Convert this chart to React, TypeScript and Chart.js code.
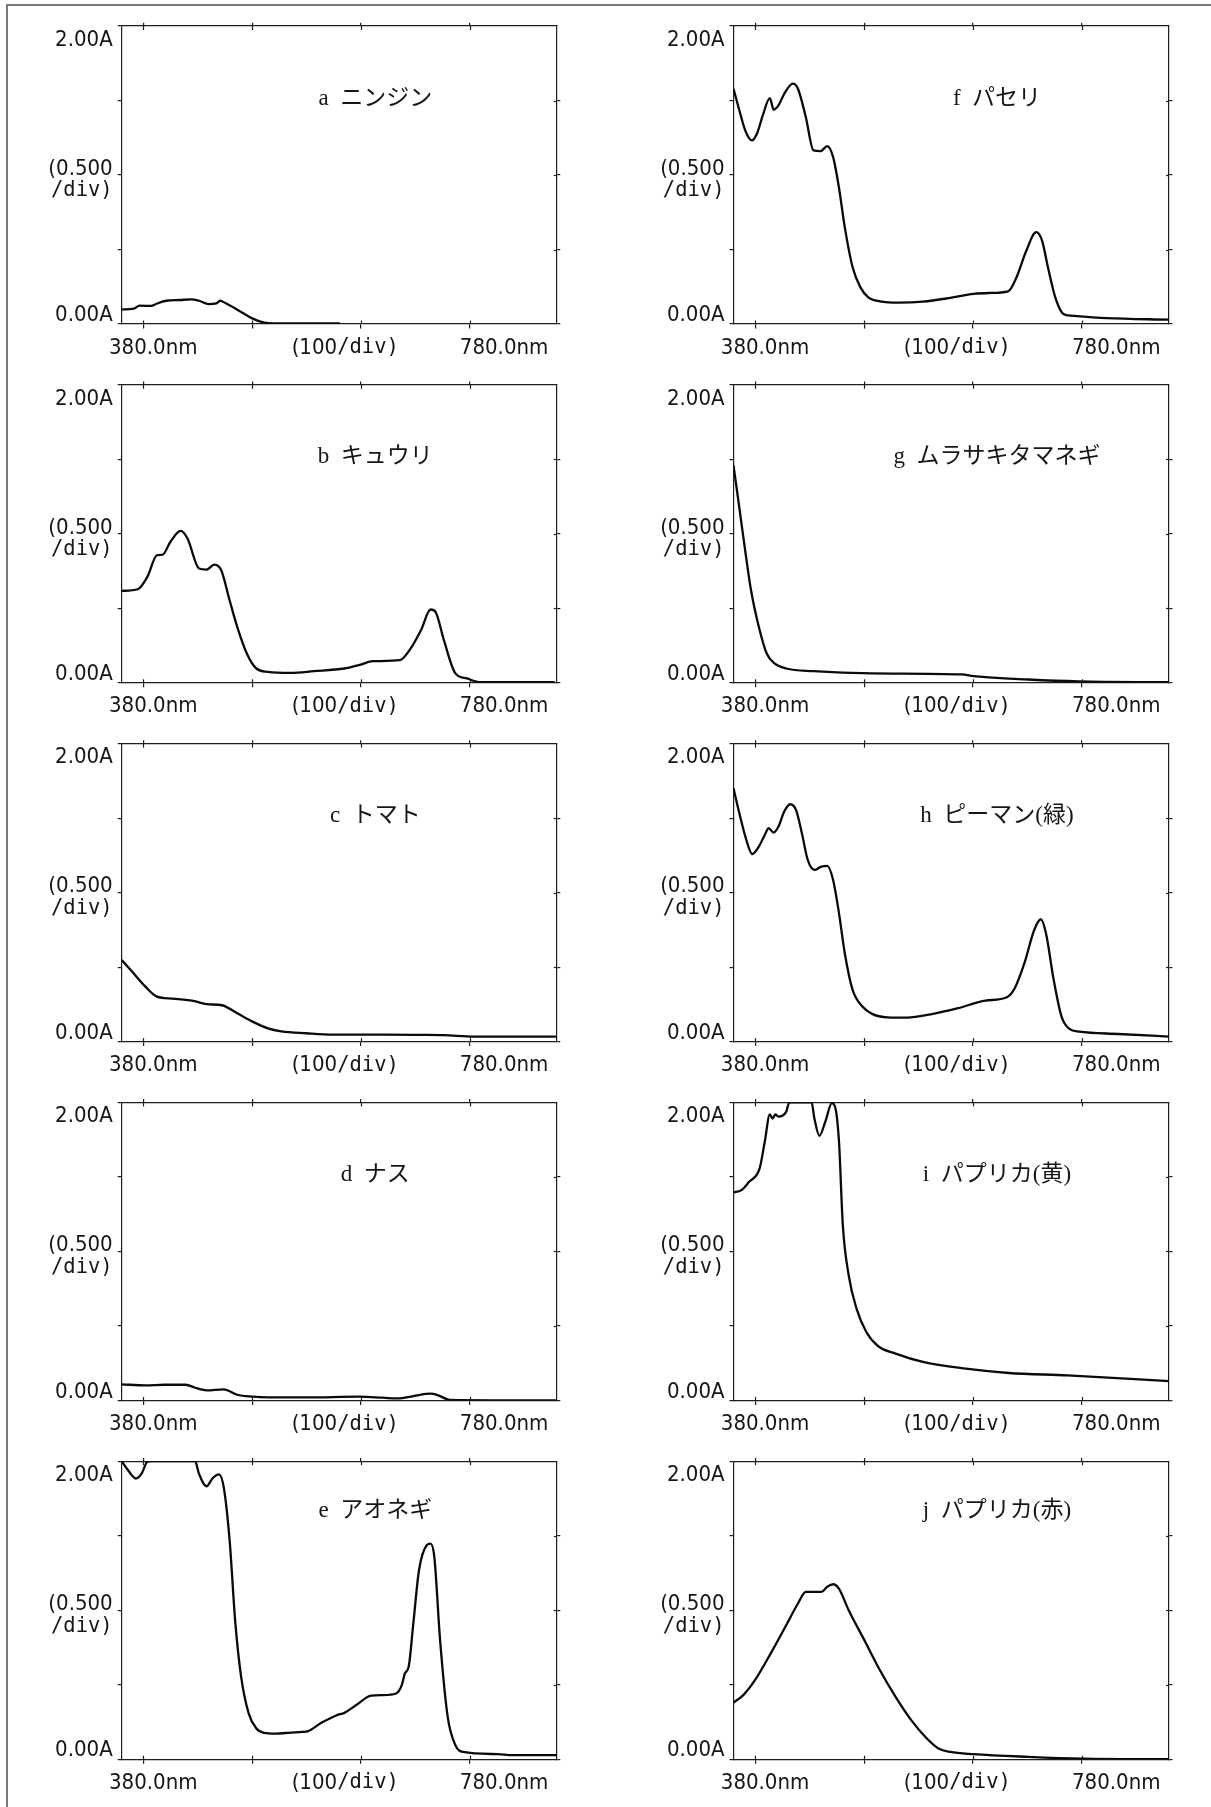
import React, { useEffect, useRef } from "react";
import { Chart, registerables } from "chart.js";

Chart.register(...registerables);

// ---------- data (wavelength nm / absorbance A) ----------
const aWave = [380, 391, 396.5, 407, 412, 421, 433.5, 444, 451, 460, 467, 470.4, 475.7, 486, 500, 511, 521, 580.5];
const aAbs = [0.098, 0.103, 0.123, 0.121, 0.136, 0.156, 0.161, 0.165, 0.156, 0.134, 0.139, 0.156, 0.139, 0.098, 0.038, 0.009, 0.004, 0.004];

const bWave = [380, 394.8, 403.6, 412.4, 417.6, 424.7, 434.2, 440.5, 451.1, 458.1, 465.1, 471.5, 479.2, 486.2, 495, 503.8, 514.4, 535.5, 556.6, 584.7, 598.8, 611.1, 635.8, 644.6, 655.1, 664, 668.5, 676.2, 686.8, 697.3, 709.6, 778];
const bAbs = [0.617, 0.628, 0.711, 0.856, 0.86, 0.945, 1.019, 0.968, 0.767, 0.76, 0.793, 0.755, 0.554, 0.375, 0.197, 0.096, 0.074, 0.067, 0.078, 0.096, 0.121, 0.145, 0.152, 0.219, 0.353, 0.492, 0.476, 0.286, 0.063, 0.029, 0.004, 0.004];

const cWave = [380, 389.5, 401.8, 412.4, 426.4, 445.8, 458.1, 472.2, 486.2, 500.3, 514.4, 526.7, 549.6, 574.2, 619.9, 655.1, 676.2, 704.4, 780];
const cAbs = [0.548, 0.47, 0.369, 0.302, 0.289, 0.273, 0.251, 0.244, 0.19, 0.134, 0.089, 0.069, 0.056, 0.047, 0.047, 0.045, 0.043, 0.034, 0.034];

const dWave = [380, 401.8, 419.4, 438.8, 447.5, 458.1, 473.9, 486.2, 500.3, 514.4, 549.6, 598.8, 619.9, 634, 648.1, 663.9, 671, 681.5, 780];
const dAbs = [0.108, 0.101, 0.105, 0.105, 0.085, 0.067, 0.074, 0.038, 0.025, 0.02, 0.02, 0.025, 0.018, 0.013, 0.029, 0.045, 0.034, 0.004, 0.0];

const eWave = [380, 386, 393, 398.3, 403.6, 407, 447.5, 451, 458, 463.4, 469.4, 474, 479.2, 484.5, 489.8, 496.8, 503.8, 510.9, 521.4, 535.5, 546, 551.3, 563.6, 577.7, 584.7, 595.3, 609.4, 619.9, 632.2, 637.5, 640.3, 643.8, 648.1, 653.3, 660.4, 663.9, 667.4, 672.7, 679.7, 686.8, 693.8, 725.5, 739.5, 780];
const eAbs = [2.0, 1.937, 1.884, 1.917, 1.996, 2.0, 2.0, 1.917, 1.832, 1.884, 1.911, 1.817, 1.47, 0.911, 0.553, 0.306, 0.206, 0.177, 0.172, 0.179, 0.183, 0.188, 0.244, 0.295, 0.311, 0.362, 0.427, 0.43, 0.441, 0.497, 0.575, 0.62, 0.911, 1.268, 1.436, 1.447, 1.358, 0.799, 0.284, 0.094, 0.049, 0.034, 0.027, 0.027];

const fWave = [380, 385.4, 390.8, 396.9, 401.5, 406.9, 413.4, 416.9, 421.3, 426.6, 434.5, 439.2, 446.4, 453.5, 460, 466.1, 471.5, 476.8, 482.2, 489.4, 496.6, 503.8, 514.5, 532.5, 554, 579, 600.6, 615, 632.2, 640, 649, 658, 663.4, 668.8, 676, 683, 690.3, 722.6, 780];
const fAbs = [1.579, 1.433, 1.299, 1.232, 1.277, 1.4, 1.516, 1.438, 1.467, 1.545, 1.613, 1.579, 1.389, 1.165, 1.16, 1.194, 1.12, 0.918, 0.65, 0.381, 0.246, 0.179, 0.152, 0.143, 0.15, 0.175, 0.202, 0.208, 0.219, 0.314, 0.493, 0.616, 0.56, 0.381, 0.168, 0.067, 0.056, 0.04, 0.029];

const gWave = [380, 383.6, 389, 396.1, 403.3, 410.5, 417.7, 428.4, 453.5, 507.3, 589.8, 600.6, 650.8, 697.4, 780];
const gAbs = [1.459, 1.269, 0.979, 0.621, 0.375, 0.197, 0.13, 0.096, 0.078, 0.063, 0.056, 0.045, 0.022, 0.009, 0.004];

const hWave = [380, 385.4, 391.8, 397.2, 403.3, 408.7, 412.3, 416.9, 421.3, 426.6, 432, 437.4, 442.8, 448.2, 454.3, 460.7, 466.1, 471.5, 476.9, 482.2, 489.4, 498.4, 507.3, 521.7, 539.6, 561.1, 586.3, 611.4, 631.1, 638.3, 647.2, 656.2, 662.3, 667, 674.1, 681.3, 688.5, 697.5, 733.3, 780];
const hAbs = [1.7, 1.532, 1.353, 1.259, 1.309, 1.387, 1.432, 1.403, 1.443, 1.544, 1.593, 1.555, 1.398, 1.219, 1.152, 1.174, 1.179, 1.085, 0.861, 0.593, 0.347, 0.235, 0.186, 0.163, 0.161, 0.183, 0.224, 0.275, 0.298, 0.358, 0.526, 0.749, 0.821, 0.727, 0.414, 0.168, 0.085, 0.067, 0.051, 0.034];

const iWave = [380, 387.2, 394.3, 404, 408.7, 413.4, 415.9, 418.4, 421.3, 424.8, 428.4, 431.3, 451.7, 454.3, 458.9, 464.3, 470.4, 473.3, 476.9, 480.4, 485.8, 493, 502, 512.7, 528.9, 554, 593.4, 632.9, 686.7, 780];
const iAbs = [1.395, 1.411, 1.467, 1.557, 1.736, 1.919, 1.892, 1.919, 1.904, 1.91, 1.937, 2.0, 2.0, 1.892, 1.776, 1.87, 1.996, 1.971, 1.736, 1.176, 0.84, 0.616, 0.459, 0.365, 0.314, 0.258, 0.213, 0.184, 0.168, 0.13];

const jWave = [380, 389, 399.7, 414.1, 428.4, 439.2, 446.4, 460.7, 466.1, 471.5, 476.8, 485.8, 500.2, 514.5, 528.9, 543.2, 557.6, 568.3, 579.1, 600.6, 650.8, 701, 780];
const jAbs = [0.38, 0.43, 0.53, 0.709, 0.899, 1.045, 1.123, 1.123, 1.157, 1.174, 1.145, 1.0, 0.799, 0.597, 0.418, 0.262, 0.139, 0.072, 0.049, 0.034, 0.016, 0.004, 0.0];

const panelTitles = [
  "a\u2002ニンジン",
  "b\u2002キュウリ",
  "c\u2002トマト",
  "d\u2002ナス",
  "e\u2002アオネギ",
  "f\u2002パセリ",
  "g\u2002ムラサキタマネギ",
  "h\u2002ピーマン(緑)",
  "i\u2002パプリカ(黄)",
  "j\u2002パプリカ(赤)",
];
const panelWaves = [aWave, bWave, cWave, dWave, eWave, fWave, gWave, hWave, iWave, jWave];
const panelAbs = [aAbs, bAbs, cAbs, dAbs, eAbs, fAbs, gAbs, hAbs, iAbs, jAbs];

// axis values and labels
const X_MIN = 380;
const X_MAX = 780;
const X_TICKS = [400, 500, 600, 700];
const Y_MIN = 0;
const Y_MAX = 2;
const Y_LEFT_TICKS = [0, 0.5, 1, 1.5, 2];
const Y_RIGHT_TICKS = [0, 0.5, 1, 1.5];
const Y_TOP_LABEL = "2.00A";
const Y_BOTTOM_LABEL = "0.00A";
const Y_DIV_LABEL = ["(0.500", "/div)"];
const X_LEFT_LABEL = "380.0nm";
const X_RIGHT_LABEL = "780.0nm";
const X_DIV_LABEL = ["(100", "/div)"];

// ---------- styling / layout ----------
const AXIS_COLOR = "#1e1e1e";
const TEXT_COLOR = "#161616";
const LINE_COLOR = "#0a0a0a";
const SANS = '22px "DejaVu Sans Condensed", "DejaVu Sans", sans-serif';
const MONO = '20.5px "DejaVu Sans Mono", monospace';
const TITLE_FONT = '23px "Liberation Serif", "Noto Sans CJK JP", serif';

const ROW_STEP = 358.8;
const PLOT_TOP0 = 26;
const PLOT_H = 298;
const CANVAS_H = 358;
const COLS = [
  { x: 0, w: 600, left: 121.7, right: 556.8, titleFrac: 0.583 },
  { x: 600, w: 611, left: 133.5, right: 569, titleFrac: 0.605 },
];

const spectroPlugin = {
  id: "spectro",
  afterDraw(chart: any, _args: any, opts: any) {
    const ctx: CanvasRenderingContext2D = chart.ctx;
    const { left, right, top, bottom } = chart.chartArea;
    const xs = chart.scales.x;
    const ys = chart.scales.y;
    ctx.save();
    ctx.strokeStyle = AXIS_COLOR;
    ctx.lineWidth = 1.2;
    const seg = (x1: number, y1: number, x2: number, y2: number) => {
      ctx.beginPath();
      ctx.moveTo(x1, y1);
      ctx.lineTo(x2, y2);
      ctx.stroke();
    };
    // inward halves of crossing tick marks
    for (const v of X_TICKS) {
      const px = Math.round(xs.getPixelForValue(v)) + 0.5;
      seg(px, top, px, top + 4);
      seg(px, bottom, px, bottom - 3.5);
    }
    for (const v of Y_RIGHT_TICKS) {
      if (v === 0) continue;
      const py = Math.round(ys.getPixelForValue(v)) + 0.5;
      seg(right - 3, py, right, py);
    }

    // y labels
    ctx.fillStyle = TEXT_COLOR;
    ctx.textBaseline = "middle";
    ctx.textAlign = "right";
    ctx.font = SANS;
    ctx.fillText(Y_TOP_LABEL, left - 9, top + 14);
    ctx.fillText(Y_BOTTOM_LABEL, left - 9, bottom - 8.5);
    const yMid = ys.getPixelForValue(1);
    ctx.fillText(Y_DIV_LABEL[0], left - 9, yMid - 6);
    ctx.font = MONO;
    ctx.fillText(Y_DIV_LABEL[1], left - 9, yMid + 16);

    // x labels
    const xy = bottom + 23.8;
    ctx.font = SANS;
    ctx.textAlign = "left";
    ctx.fillText(X_LEFT_LABEL, left - 12.7, xy);
    ctx.textAlign = "right";
    ctx.fillText(X_RIGHT_LABEL, right - 8.5, xy);
    const w1 = ctx.measureText(X_DIV_LABEL[0]).width;
    ctx.font = MONO;
    const w2 = ctx.measureText(X_DIV_LABEL[1]).width;
    const cx = (left + right) / 2 + 6;
    const sx = cx - (w1 + w2) / 2;
    ctx.textAlign = "left";
    ctx.font = SANS;
    ctx.fillText(X_DIV_LABEL[0], sx, xy);
    ctx.font = MONO;
    ctx.fillText(X_DIV_LABEL[1], sx + w1, xy);

    // panel title
    ctx.font = TITLE_FONT;
    ctx.textAlign = "center";
    ctx.fillText(opts.title, left + (right - left) * opts.titleFrac, top + opts.titleDy);
    ctx.restore();
  },
};

function ticksFrom(values: number[]) {
  return (scale: any) => {
    scale.ticks = values.map((v) => ({ value: v }));
  };
}

function Panel({ idx }: { idx: number }) {
  const ref = useRef<HTMLCanvasElement | null>(null);
  const col = idx < 5 ? 0 : 1;
  const row = idx % 5;
  const c = COLS[col];
  const plotTop = PLOT_TOP0 + ROW_STEP * row;
  const canvasTop = Math.round(ROW_STEP * row);
  const padTop = plotTop - canvasTop;
  const padBottom = CANVAS_H - padTop - PLOT_H;

  useEffect(() => {
    if (!ref.current) return;
    const grid = (len: number) => ({
      drawOnChartArea: false,
      drawTicks: true,
      tickLength: len,
      color: AXIS_COLOR,
      lineWidth: 1.2,
    });
    const border = { display: true, color: AXIS_COLOR, width: 1.2 };
    const zeroH = (s: any) => {
      s.height = 0;
    };
    const zeroW = (s: any) => {
      s.width = 0;
    };
    const chart = new Chart(ref.current, {
      type: "line",
      data: {
        datasets: [
          {
            data: panelWaves[idx].map((w, i) => ({ x: w, y: panelAbs[idx][i] })),
            borderColor: LINE_COLOR,
            borderWidth: 2.3,
            pointRadius: 0,
            fill: false,
            cubicInterpolationMode: "monotone",
          },
        ],
      },
      options: {
        responsive: false,
        animation: false,
        events: [],
        layout: {
          padding: { left: c.left, right: c.w - c.right, top: padTop, bottom: padBottom },
        },
        plugins: {
          legend: { display: false },
          tooltip: { enabled: false },
          spectro: { title: panelTitles[idx], titleFrac: c.titleFrac, titleDy: row === 4 ? 50 : 72.6 },
        } as any,
        scales: {
          x: {
            type: "linear",
            position: "bottom",
            min: X_MIN,
            max: X_MAX,
            afterBuildTicks: ticksFrom(X_TICKS),
            afterFit: zeroH,
            grid: grid(4.5),
            border,
            ticks: { display: false },
          },
          x2: {
            type: "linear",
            position: "top",
            min: X_MIN,
            max: X_MAX,
            afterBuildTicks: ticksFrom(X_TICKS),
            afterFit: zeroH,
            grid: grid(3.3),
            border,
            ticks: { display: false },
          },
          y: {
            type: "linear",
            position: "left",
            min: Y_MIN,
            max: Y_MAX,
            afterBuildTicks: ticksFrom(Y_LEFT_TICKS),
            afterFit: zeroW,
            grid: grid(4),
            border,
            ticks: { display: false },
          },
          y2: {
            type: "linear",
            position: "right",
            min: Y_MIN,
            max: Y_MAX,
            afterBuildTicks: ticksFrom(Y_RIGHT_TICKS),
            afterFit: zeroW,
            grid: grid(3.5),
            border,
            ticks: { display: false },
          },
        },
      } as any,
      plugins: [spectroPlugin as any],
    });
    return () => chart.destroy();
  }, [idx]);

  return (
    <canvas
      ref={ref}
      width={c.w}
      height={CANVAS_H}
      style={{ position: "absolute", left: c.x, top: canvasTop, width: c.w, height: CANVAS_H }}
    />
  );
}

export default function App() {
  return (
    <div
      style={{
        position: "absolute",
        left: 0,
        top: 0,
        width: 1211,
        height: 1807,
        background: "#ffffff",
        overflow: "hidden",
      }}
    >
      <div
        style={{
          position: "absolute",
          left: 5.5,
          top: 4,
          width: 1300,
          height: 1900,
          borderTop: "2px solid #7a7a7a",
          borderLeft: "2px solid #7a7a7a",
        }}
      />
      {panelTitles.map((_, i) => (
        <Panel key={i} idx={i} />
      ))}
    </div>
  );
}
